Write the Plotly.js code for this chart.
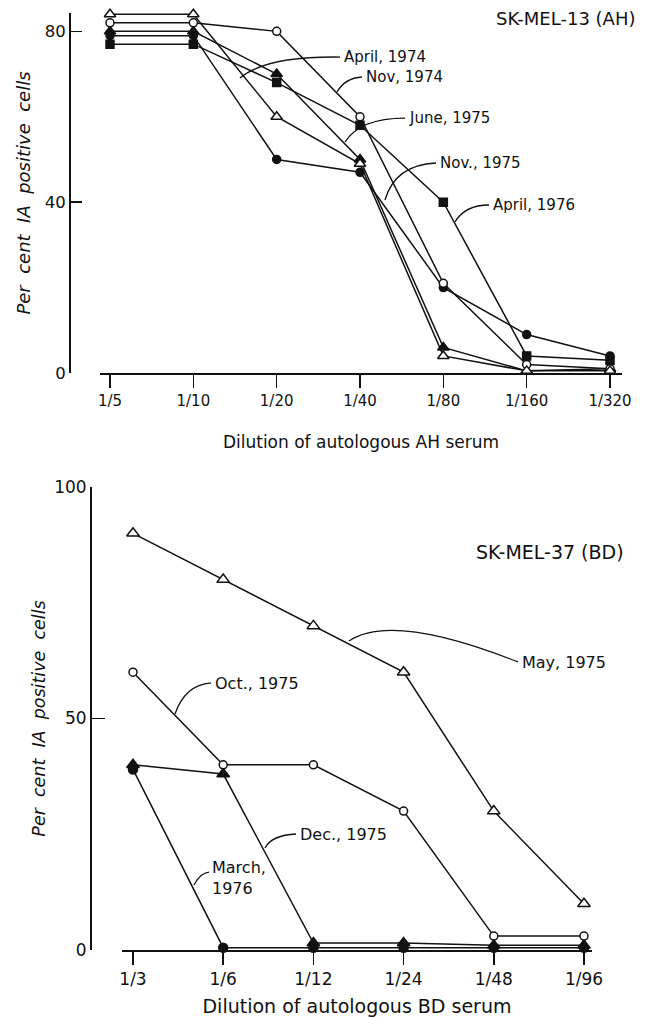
<!DOCTYPE html>
<html><head><meta charset="utf-8">
<script src="https://cdn.plot.ly/plotly-3.0.1.min.js"></script>
<style>html,body{margin:0;padding:0;background:#fff}</style>
</head><body><div id="chart" style="width:647px;height:1018px"></div>
<script>
// ---- Data: SK-MEL-13 (AH) ----
const dilutionsAH = ['1/5','1/10','1/20','1/40','1/80','1/160','1/320'];
const ahApril1974 = [84, 84, 60, 49, 4, 0.5, 0.5];
const ahNov1974   = [82, 82, 80, 60, 21, 2, 1];
const ahJune1975  = [80, 80, 70, 50, 6, 0.5, 1];
const ahNov1975   = [79, 79, 50, 47, 20, 9, 4];
const ahApril1976 = [77, 77, 68, 58, 40, 4, 3];
const ahNames = ['April, 1974', 'Nov, 1974', 'June, 1975', 'Nov., 1975', 'April, 1976'];
const ahTicks = [0, 40, 80];

// ---- Data: SK-MEL-37 (BD) ----
const dilutionsBD = ['1/3','1/6','1/12','1/24','1/48','1/96'];
const bdMay1975   = [90, 80, 70, 60, 30, 10];
const bdOct1975   = [60, 40, 40, 30, 3, 3];
const bdDec1975   = [40, 38, 1.5, 1.5, 1, 1];
const bdMarch1976 = [39, 0.5, 0.5, 0.5, 0.5, 0.5];
const bdNames = ['May, 1975', 'Oct., 1975', 'Dec., 1975', 'March,<br>1976'];
const bdTicks = [0, 50, 100];

const FONT = 'DejaVu Sans, Liberation Sans, sans-serif';
const BLACK = '#111';

function series(x, y, name, symbol, open, size, xa, ya) {
  return {
    type: 'scatter', mode: 'lines+markers', x: x, y: y, name: name,
    xaxis: xa, yaxis: ya, cliponaxis: false,
    line: {color: BLACK, width: 1.5},
    marker: {symbol: symbol, size: size, color: open ? '#fff' : BLACK,
             line: {color: BLACK, width: 1.5}}
  };
}

const traces = [
  series(dilutionsAH, ahApril1976, ahNames[4], 'square', false, 8, 'x', 'y'),
  series(dilutionsAH, ahJune1975,  ahNames[2], 'triangle-up', false, 10, 'x', 'y'),
  series(dilutionsAH, ahNov1975,   ahNames[3], 'circle', false, 8, 'x', 'y'),
  series(dilutionsAH, ahNov1974,   ahNames[1], 'circle', true, 8, 'x', 'y'),
  series(dilutionsAH, ahApril1974, ahNames[0], 'triangle-up', true, 10, 'x', 'y'),
  series(dilutionsBD, bdMarch1976, bdNames[3], 'circle', false, 9, 'x2', 'y2'),
  series(dilutionsBD, bdDec1975,   bdNames[2], 'triangle-up', false, 11, 'x2', 'y2'),
  series(dilutionsBD, bdOct1975,   bdNames[1], 'circle', true, 8, 'x2', 'y2'),
  series(dilutionsBD, bdMay1975,   bdNames[0], 'triangle-up', true, 11, 'x2', 'y2')
];

// pixel -> paper helpers (layout geometry)
const L = 69, R = 25, T = 13, B = 68, WIDTH = 647, HEIGHT = 1018;
const PW = WIDTH - L - R, PH = HEIGHT - T - B;
const X = px => (px - L) / PW;
const Y = py => (HEIGHT - B - py) / PH;
const pt = (px, py) => X(px).toFixed(4) + ',' + Y(py).toFixed(4);
function leader(p0, c, p1) {
  return {type: 'path', xref: 'paper', yref: 'paper',
          path: 'M' + pt(p0[0], p0[1]) + ' Q' + pt(c[0], c[1]) + ' ' + pt(p1[0], p1[1]),
          line: {color: BLACK, width: 1.3}};
}
function label(text, px, py, size) {
  return {xref: 'paper', yref: 'paper', x: X(px), y: Y(py), xanchor: 'left', yanchor: 'middle',
          text: text, showarrow: false, align: 'left', font: {family: FONT, size: size || 15, color: BLACK}};
}

const shapes = [
  leader([240, 78], [266, 56], [340, 57]),
  leader([337, 92], [345, 78], [362, 77]),
  leader([345, 142], [360, 118], [405, 118]),
  leader([385, 200], [395, 165], [436, 163]),
  leader([455, 222], [465, 205], [489, 205]),
  leader([349, 641], [392, 612], [518, 662]),
  leader([175, 714], [185, 685], [211, 683]),
  leader([265, 848], [272, 835], [296, 834]),
  leader([194, 885], [200, 873], [209, 872])
];

const annotations = [
  label('SK-MEL-13 (AH)', 494, 18, 18),
  label(ahNames[0], 342, 57),
  label(ahNames[1], 364, 77),
  label(ahNames[2], 407, 118),
  label(ahNames[3], 438, 163),
  label(ahNames[4], 491, 205),
  label('SK-MEL-37 (BD)', 474, 552, 19),
  label(bdNames[0], 520, 662, 16),
  label(bdNames[1], 213, 683, 16),
  label(bdNames[2], 298, 834, 16),
  label(bdNames[3], 210, 878, 16)
];

const axisCommon = {showgrid: false, zeroline: false, showline: true, linecolor: BLACK, linewidth: 1.5,
                    tickcolor: BLACK, tickwidth: 1.5, fixedrange: true};
const yTitle = '<i>Per&nbsp; cent&nbsp; IA&nbsp; positive&nbsp; cells</i>';

const layout = {
  width: WIDTH, height: HEIGHT,
  margin: {l: L, r: R, t: T, b: B},
  paper_bgcolor: '#fff', plot_bgcolor: '#fff',
  showlegend: false, hovermode: false,
  font: {family: FONT, color: BLACK},
  xaxis: Object.assign({}, axisCommon, {
    type: 'category', domain: [X(100), X(622)], range: [-0.12, 6.144], anchor: 'y',
    ticks: 'outside', ticklen: 13, tickfont: {size: 15},
    title: {text: 'Dilution of autologous AH serum', font: {size: 17}, standoff: 27}
  }),
  yaxis: Object.assign({}, axisCommon, {
    domain: [Y(373), Y(13)], range: [0, 84.3], anchor: 'free', position: X(69),
    ticks: 'inside', ticklen: 11, tickvals: ahTicks, tickfont: {size: 16.5},
    title: {text: yTitle, font: {size: 18}, standoff: 8}
  }),
  xaxis2: Object.assign({}, axisCommon, {
    type: 'category', domain: [X(122), X(592)], range: [-0.122, 5.089], anchor: 'y2',
    ticks: 'outside', ticklen: 13, tickfont: {size: 17},
    title: {text: 'Dilution of autologous BD serum', font: {size: 19}, standoff: 12}
  }),
  yaxis2: Object.assign({}, axisCommon, {
    domain: [Y(950), Y(487)], range: [0, 100], anchor: 'free', position: X(90),
    ticks: 'inside', ticklen: 13, tickvals: bdTicks, tickfont: {size: 17},
    title: {text: yTitle, font: {size: 17.5}, standoff: 2}
  }),
  shapes: shapes,
  annotations: annotations
};

Plotly.newPlot('chart', traces, layout, {staticPlot: true, displayModeBar: false});
</script></body></html>
